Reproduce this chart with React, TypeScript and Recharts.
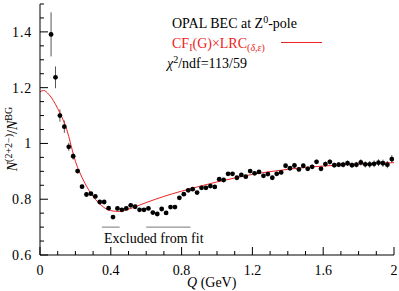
import React from "react";
import {
  ComposedChart,
  Scatter,
  Line,
  XAxis,
  YAxis,
  ErrorBar,
  ReferenceLine,
} from "recharts";

// ---- data ----
const Q_VALUES = [
  0.0625, 0.0875, 0.1125, 0.1375, 0.1625, 0.1875, 0.2125, 0.2375, 0.2625, 0.2875,
  0.3125, 0.3375, 0.3625, 0.3875, 0.4125, 0.4375, 0.4625, 0.4875, 0.5125, 0.5375,
  0.5625, 0.5875, 0.6125, 0.6375, 0.6625, 0.6875, 0.7125, 0.7375, 0.7625, 0.7875,
  0.8125, 0.8375, 0.8625, 0.8875, 0.9125, 0.9375, 0.9625, 0.9875, 1.0125, 1.0375,
  1.0625, 1.0875, 1.1125, 1.1375, 1.1625, 1.1875, 1.2125, 1.2375, 1.2625, 1.2875,
  1.3125, 1.3375, 1.3625, 1.3875, 1.4125, 1.4375, 1.4625, 1.4875, 1.5125, 1.5375,
  1.5625, 1.5875, 1.6125, 1.6375, 1.6625, 1.6875, 1.7125, 1.7375, 1.7625, 1.7875,
  1.8125, 1.8375, 1.8625, 1.8875, 1.9125, 1.9375, 1.9625, 1.9875,
];
const RATIO_VALUES = [
  1.391, 1.237, 1.1, 1.06, 0.988, 0.954, 0.901, 0.845, 0.817, 0.82,
  0.81, 0.79, 0.79, 0.768, 0.736, 0.767, 0.762, 0.767, 0.778, 0.773,
  0.762, 0.762, 0.767, 0.752, 0.747, 0.765, 0.751, 0.772, 0.772, 0.805,
  0.818, 0.832, 0.836, 0.824, 0.841, 0.841, 0.847, 0.844, 0.872, 0.869,
  0.891, 0.891, 0.877, 0.887, 0.881, 0.901, 0.893, 0.898, 0.884, 0.89,
  0.877, 0.891, 0.896, 0.92, 0.911, 0.921, 0.907, 0.92, 0.909, 0.916,
  0.934, 0.909, 0.926, 0.934, 0.922, 0.924, 0.924, 0.929, 0.922, 0.924,
  0.932, 0.925, 0.925, 0.927, 0.931, 0.929, 0.924, 0.944,
];
const RATIO_ERRORS = [
  0.079, 0.039, 0.022, 0.022, 0.014, 0.012, 0.008, 0.007, 0.007, 0.007,
  0.006, 0.006, 0.006, 0.006, 0.006, 0.006, 0.006, 0.006, 0.006, 0.006,
  0.006, 0.006, 0.006, 0.006, 0.006, 0.006, 0.006, 0.006, 0.006, 0.006,
  0.006, 0.006, 0.006, 0.006, 0.006, 0.006, 0.006, 0.006, 0.006, 0.006,
  0.006, 0.006, 0.006, 0.006, 0.006, 0.006, 0.006, 0.006, 0.006, 0.006,
  0.007, 0.007, 0.007, 0.007, 0.007, 0.007, 0.007, 0.007, 0.008, 0.008,
  0.008, 0.008, 0.009, 0.009, 0.009, 0.009, 0.01, 0.01, 0.01, 0.01,
  0.011, 0.011, 0.012, 0.012, 0.012, 0.013, 0.013, 0.014,
];
const FIT_Q = [
  0, 0.02, 0.05, 0.1, 0.15, 0.2, 0.25, 0.3, 0.35, 0.4, 0.45, 0.5, 0.55, 0.6,
  0.7, 0.8, 0.9, 1.0, 1.1, 1.2, 1.3, 1.4, 1.5, 1.6, 1.7, 1.8, 1.9, 2.0,
];
const FIT_VALUES = [
  1.185, 1.19, 1.176, 1.125, 1.052, 0.936, 0.862, 0.81, 0.776, 0.759, 0.756,
  0.764, 0.776, 0.788, 0.81, 0.829, 0.846, 0.862, 0.876, 0.889, 0.899, 0.907,
  0.914, 0.919, 0.923, 0.926, 0.929, 0.931,
];
const EXCLUDED_RANGES = [
  [0.35, 0.45],
  [0.6, 0.85],
];
const EXCLUDED_MARK_LEVEL = 0.7;

const X_TICKS = [0, 0.1, 0.2, 0.3, 0.4, 0.5, 0.6, 0.7, 0.8, 0.9, 1, 1.1, 1.2, 1.3, 1.4, 1.5, 1.6, 1.7, 1.8, 1.9, 2];
const X_MAJOR = [0, 0.4, 0.8, 1.2, 1.6, 2];
const Y_TICKS = [0.6, 0.65, 0.7, 0.75, 0.8, 0.85, 0.9, 0.95, 1, 1.05, 1.1, 1.15, 1.2, 1.25, 1.3, 1.35, 1.4, 1.45, 1.5];
const Y_MAJOR = [0.6, 0.8, 1, 1.2, 1.4];

const points = Q_VALUES.map((q, i) => ({ q, r: RATIO_VALUES[i], err: RATIO_ERRORS[i] }));
const fit = FIT_Q.map((q, i) => ({ q, f: FIT_VALUES[i] }));

const FONT = "Liberation Serif";
const RED = "#ee2222";
const MAJ = 8;
const MIN = 4;
const txtStyle: React.CSSProperties = { fontFamily: FONT };

const BottomTick = (props: any) => {
  const { x, y, payload } = props;
  const major = X_MAJOR.includes(payload.value);
  return (
    <g>
      <line x1={x} x2={x} y1={y} y2={y - (major ? MAJ : MIN)} stroke="#000" strokeWidth={1} />
      {major && (
        <text x={x} y={y + 20} textAnchor="middle" style={txtStyle} fontSize={14} fill="#000">
          {String(payload.value)}
        </text>
      )}
    </g>
  );
};
const TopTick = (props: any) => {
  const { x, y, payload } = props;
  const major = X_MAJOR.includes(payload.value);
  return <line x1={x} x2={x} y1={y} y2={y + (major ? MAJ : MIN)} stroke="#000" strokeWidth={1} />;
};
const LeftTick = (props: any) => {
  const { x, y, payload } = props;
  const major = Y_MAJOR.includes(payload.value);
  return (
    <g>
      <line x1={x} x2={x + (major ? MAJ : MIN)} y1={y} y2={y} stroke="#000" strokeWidth={1} />
      {major && (
        <text x={x - 8} y={y + 5} textAnchor="end" style={txtStyle} fontSize={14} letterSpacing={0.8} fill="#000">
          {String(payload.value)}
        </text>
      )}
    </g>
  );
};
const RightTick = (props: any) => {
  const { x, y, payload } = props;
  const major = Y_MAJOR.includes(payload.value);
  return <line x1={x} x2={x - (major ? MAJ : MIN)} y1={y} y2={y} stroke="#000" strokeWidth={1} />;
};

const Dot = (p: any) => <circle cx={p.cx} cy={p.cy} r={2.4} fill="#000" />;

export default function App() {
  return (
    <div style={{ position: "absolute", left: 0, top: 0, width: 399, height: 291, background: "#fff" }}>
      <ComposedChart width={399} height={291} margin={{ top: 4, right: 5, bottom: 0, left: 0 }}>
        <XAxis
          xAxisId="b"
          dataKey="q"
          type="number"
          domain={[0, 2]}
          allowDataOverflow
          ticks={X_TICKS}
          interval={0}
          height={36}
          tickSize={0}
          tickMargin={0}
          tick={<BottomTick />}
          tickLine={false}
          axisLine={{ stroke: "#000", strokeWidth: 1 }}
        />
        <XAxis
          xAxisId="t"
          orientation="top"
          dataKey="q"
          type="number"
          domain={[0, 2]}
          allowDataOverflow
          ticks={X_TICKS}
          interval={0}
          height={0}
          tickSize={0}
          tickMargin={0}
          tick={<TopTick />}
          tickLine={false}
          axisLine={{ stroke: "#000", strokeWidth: 1 }}
        />
        <YAxis
          yAxisId="l"
          type="number"
          domain={[0.6, 1.5]}
          allowDataOverflow
          ticks={Y_TICKS}
          interval={0}
          width={40}
          tickSize={0}
          tickMargin={0}
          tick={<LeftTick />}
          tickLine={false}
          axisLine={{ stroke: "#000", strokeWidth: 1 }}
        />
        <YAxis
          yAxisId="r"
          orientation="right"
          type="number"
          domain={[0.6, 1.5]}
          allowDataOverflow
          ticks={Y_TICKS}
          interval={0}
          width={0}
          tickSize={0}
          tickMargin={0}
          tick={<RightTick />}
          tickLine={false}
          axisLine={{ stroke: "#000", strokeWidth: 1 }}
        />
        {EXCLUDED_RANGES.map((r, i) => (
          <ReferenceLine
            key={i}
            xAxisId="b"
            yAxisId="l"
            segment={[
              { x: r[0], y: EXCLUDED_MARK_LEVEL },
              { x: r[1], y: EXCLUDED_MARK_LEVEL },
            ]}
            stroke="#777"
            strokeWidth={1}
          />
        ))}
        <Scatter
          xAxisId="b"
          yAxisId="l"
          data={points}
          dataKey="r"
          shape={Dot}
          isAnimationActive={false}
        >
          <ErrorBar dataKey="err" direction="y" width={0} stroke="#555" strokeWidth={1} />
        </Scatter>
        <Line
          xAxisId="b"
          yAxisId="l"
          data={fit}
          dataKey="f"
          type="monotone"
          stroke={RED}
          strokeWidth={1}
          dot={false}
          activeDot={false}
          isAnimationActive={false}
        />
      </ComposedChart>
      <svg
        width={399}
        height={291}
        style={{ position: "absolute", left: 0, top: 0, pointerEvents: "none", fontFamily: FONT }}
      >
        <g fontSize={14} style={txtStyle}>
          <text x={172} y={28} fill="#000">
            OPAL BEC at Z<tspan fontSize={10} dy={-5}>0</tspan>
            <tspan dy={5}>-pole</tspan>
          </text>
          <text x={172} y={48} fill={RED}>
            CF<tspan fontSize={10} dy={3}>I</tspan>
            <tspan dy={-3}>(G)×LRC</tspan>
            <tspan fontSize={10} dy={3}>(</tspan>
            <tspan fontSize={10} fontStyle="italic">δ,ε</tspan>
            <tspan fontSize={10}>)</tspan>
          </text>
          <line x1={281} x2={322} y1={42.5} y2={42.5} stroke={RED} strokeWidth={1} />
          <text x={167} y={68} fill="#000">
            <tspan fontStyle="italic">χ</tspan>
            <tspan fontSize={10} dy={-5}>2</tspan>
            <tspan dy={5}>/ndf=113/59</tspan>
          </text>
          <text x={104} y={243} fill="#000">Excluded from fit</text>
          <text x={187} y={287} fill="#000">
            <tspan fontStyle="italic">Q</tspan> (GeV)
          </text>
          <text x={17} y={139} textAnchor="middle" transform="rotate(-90 17 139)" fill="#000">
            <tspan fontStyle="italic">N</tspan>
            <tspan fontSize={10} dy={-5}>(2+2−)</tspan>
            <tspan dy={5}>/</tspan>
            <tspan fontStyle="italic">N</tspan>
            <tspan fontSize={10} dy={-5}>BG</tspan>
          </text>
        </g>
      </svg>
    </div>
  );
}
